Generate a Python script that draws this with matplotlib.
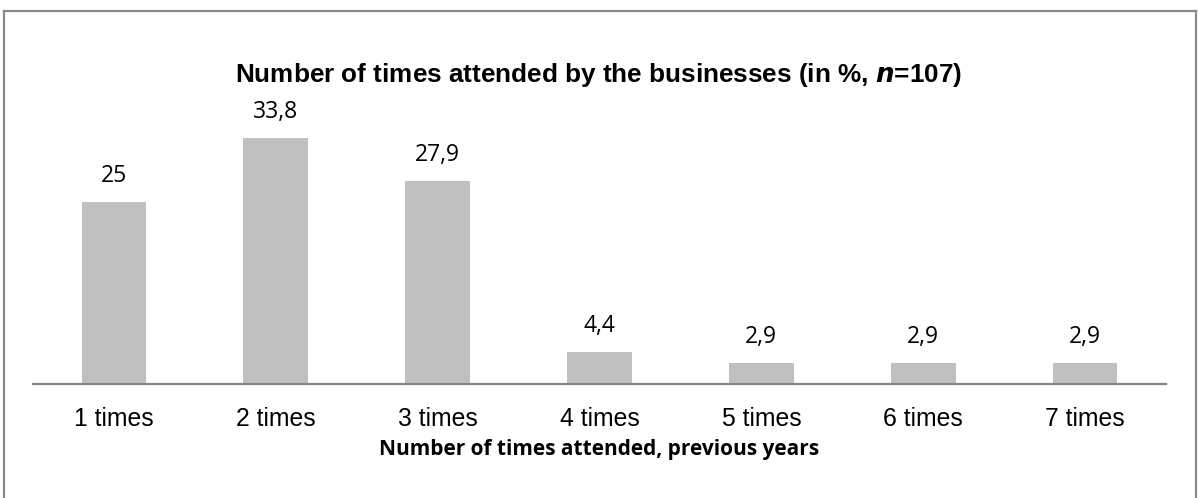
import matplotlib
matplotlib.use("Agg")
import matplotlib.pyplot as plt
from matplotlib.lines import Line2D

categories = ["1 times", "2 times", "3 times", "4 times", "5 times", "6 times", "7 times"]
values = [25, 33.8, 27.9, 4.4, 2.9, 2.9, 2.9]
labels = ["25", "33,8", "27,9", "4,4", "2,9", "2,9", "2,9"]

W, H = 1198, 498
fig = plt.figure(figsize=(W / 100, H / 100), dpi=100)
fig.patch.set_facecolor("white")

# plot area in pixel terms
x0, x1 = 33, 1166
y_axis, y_top = 384, 93
ax = fig.add_axes([x0 / W, (H - y_axis) / H, (x1 - x0) / W, (y_axis - y_top) / H])

x = list(range(len(categories)))
ax.bar(x, values, width=0.4, color="#BFBFBF", zorder=2)
ax.set_xlim(-0.5, len(categories) - 0.5)
ax.set_ylim(0, 40)

for xi, v, lab in zip(x, values, labels):
    ax.annotate(lab, (xi, v), xytext=(0, 10), textcoords="offset points",
                ha="center", va="bottom", fontsize=16.5, family="Open Sans",
                color="black")

for s in ["top", "right", "left"]:
    ax.spines[s].set_visible(False)
ax.spines["bottom"].set_color("#868686")
ax.spines["bottom"].set_linewidth(1.6)
ax.set_yticks([])
ax.set_xticks(x)
ax.set_xticklabels(categories, family="Liberation Sans", fontsize=17.8)
ax.tick_params(axis="x", length=0, pad=16.5)

ax.set_xlabel("Number of times attended, previous years", family="Open Sans",
              fontweight="bold", fontsize=15, labelpad=6)

fig.text(0.5, (H - 75) / H, "Number of times attended by the businesses (in %, $\\bfit{n}$=107)",
         ha="center", va="center", family="Liberation Sans", fontweight="bold",
         fontsize=18.8)

# outer chart frame
fc = "#8A8A8A"
fig.add_artist(Line2D([3.5 / W, 3.5 / W], [0, (H - 11) / H], color=fc, lw=1.6,
                      transform=fig.transFigure))
fig.add_artist(Line2D([3.5 / W, 1196 / W], [(H - 11) / H, (H - 11) / H], color=fc, lw=1.6,
                      transform=fig.transFigure))
fig.add_artist(Line2D([1196 / W, 1196 / W], [0, (H - 11) / H], color=fc, lw=1.6,
                      transform=fig.transFigure))

fig.savefig("out.png", dpi=100)
